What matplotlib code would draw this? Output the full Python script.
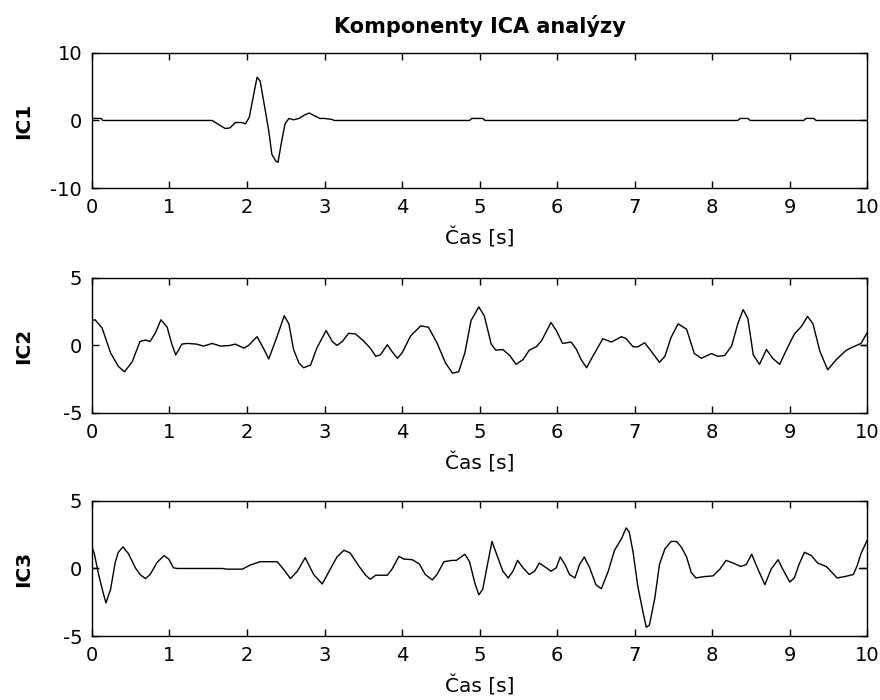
import matplotlib

matplotlib.use("Agg")

import matplotlib.pyplot as plt

# IC1 - single transient around 2.2 s, otherwise flat
ic1_t = [0.0, 0.12, 0.14, 1.55, 1.62, 1.72, 1.78, 1.85, 1.93, 1.98, 2.03, 2.08, 2.13,
         2.17, 2.22, 2.28, 2.32, 2.37, 2.40, 2.44, 2.49, 2.54, 2.60, 2.67, 2.74, 2.80,
         2.87, 2.94, 3.00, 3.10, 3.12, 4.87, 4.90, 5.04, 5.07, 8.33, 8.36, 8.46, 8.49,
         9.18, 9.21, 9.31, 9.34, 10.0]
ic1_v = [0.3, 0.3, 0.0, 0.0, -0.5, -1.2, -1.1, -0.3, -0.3, -0.5, 0.5, 3.5, 6.4,
         5.8, 2.5, -1.5, -5.0, -6.0, -6.2, -3.5, -0.5, 0.3, 0.1, 0.3, 0.8, 1.1,
         0.7, 0.3, 0.3, 0.15, 0.0, 0.0, 0.3, 0.3, 0.0, 0.0, 0.3, 0.3, 0.0,
         0.0, 0.3, 0.3, 0.0, 0.0]

ic2_t = [0.0, 0.04, 0.13, 0.24, 0.34, 0.42, 0.52, 0.62, 0.69, 0.75, 0.82, 0.89, 0.97,
         1.03, 1.08, 1.16, 1.23, 1.35, 1.44, 1.55, 1.66, 1.78, 1.85, 1.96, 2.02, 2.13,
         2.22, 2.28, 2.39, 2.48, 2.54, 2.60, 2.67, 2.73, 2.82, 2.90, 3.02, 3.10, 3.16,
         3.23, 3.31, 3.40, 3.50, 3.59, 3.66, 3.72, 3.81, 3.87, 3.94, 4.00, 4.11, 4.24,
         4.34, 4.45, 4.56, 4.65, 4.73, 4.81, 4.89, 4.99, 5.06, 5.15, 5.21, 5.30, 5.39,
         5.47, 5.56, 5.64, 5.73, 5.80, 5.92, 5.99, 6.07, 6.18, 6.25, 6.31, 6.38, 6.46,
         6.59, 6.70, 6.83, 6.89, 6.98, 7.04, 7.13, 7.21, 7.32, 7.39, 7.47, 7.56, 7.67,
         7.77, 7.86, 7.99, 8.07, 8.16, 8.25, 8.33, 8.40, 8.46, 8.53, 8.61, 8.70, 8.78,
         8.87, 8.96, 9.06, 9.15, 9.23, 9.30, 9.39, 9.49, 9.60, 9.73, 9.84, 9.92, 10.0]
ic2_v = [1.85, 1.9, 1.3, -0.55, -1.55, -1.95, -1.2, 0.3, 0.4, 0.3, 0.95, 1.9, 1.35,
         0.1, -0.7, 0.1, 0.15, 0.1, -0.05, 0.15, -0.05, 0.0, 0.1, -0.2, 0.0, 0.65,
         -0.3, -1.0, 0.7, 2.2, 1.6, -0.3, -1.3, -1.65, -1.45, -0.2, 1.1, 0.3, 0.0,
         0.3, 0.9, 0.85, 0.35, -0.2, -0.8, -0.7, 0.05, -0.45, -0.95, -0.55, 0.7, 1.45,
         1.35, 0.2, -1.3, -2.05, -1.95, -0.55, 1.85, 2.85, 2.2, 0.1, -0.35, -0.3, -0.75,
         -1.4, -1.05, -0.35, -0.1, 0.35, 1.7, 1.1, 0.15, 0.25, -0.3, -1.05, -1.65, -0.8,
         0.5, 0.25, 0.65, 0.5, -0.1, -0.1, 0.2, -0.4, -1.25, -0.8, 0.6, 1.6, 1.2,
         -0.6, -0.95, -0.6, -0.8, -0.75, -0.05, 1.6, 2.65, 2.0, -0.7, -1.4, -0.3, -0.95,
         -1.4, -0.3, 0.85, 1.4, 2.15, 1.6, -0.45, -1.8, -1.05, -0.35, -0.05, 0.15, 0.95]

ic3_t = [0.0, 0.03, 0.09, 0.14, 0.18, 0.24, 0.30, 0.34, 0.40, 0.47, 0.56, 0.62, 0.69,
         0.75, 0.84, 0.93, 0.99, 1.05, 1.10, 1.68, 1.74, 1.94, 2.04, 2.17, 2.39, 2.47,
         2.56, 2.65, 2.75, 2.86, 2.97, 3.05, 3.16, 3.25, 3.33, 3.44, 3.53, 3.59, 3.66,
         3.81, 3.87, 3.96, 4.02, 4.13, 4.22, 4.30, 4.39, 4.45, 4.54, 4.65, 4.70, 4.81,
         4.87, 4.94, 4.99, 5.04, 5.11, 5.16, 5.21, 5.30, 5.37, 5.43, 5.49, 5.56, 5.64,
         5.71, 5.77, 5.86, 5.92, 5.99, 6.04, 6.10, 6.16, 6.23, 6.29, 6.35, 6.42, 6.50,
         6.57, 6.66, 6.74, 6.83, 6.89, 6.93, 6.98, 7.04, 7.11, 7.15, 7.19, 7.26, 7.32,
         7.39, 7.47, 7.54, 7.60, 7.67, 7.73, 7.79, 7.90, 8.01, 8.10, 8.18, 8.27, 8.37,
         8.44, 8.51, 8.59, 8.68, 8.76, 8.85, 8.91, 9.00, 9.06, 9.12, 9.19, 9.28, 9.36,
         9.47, 9.53, 9.61, 9.71, 9.82, 9.87, 9.92, 10.0]
ic3_v = [1.6, 1.1, -0.55, -1.7, -2.55, -1.55, 0.45, 1.2, 1.6, 1.1, 0.05, -0.45, -0.75,
         -0.45, 0.45, 0.95, 0.7, 0.05, 0.0, 0.0, -0.05, -0.05, 0.25, 0.5, 0.5, -0.05,
         -0.75, -0.2, 0.8, -0.45, -1.15, -0.3, 0.85, 1.35, 1.15, 0.2, -0.5, -0.8, -0.5,
         -0.5, -0.05, 0.9, 0.7, 0.65, 0.35, -0.45, -0.85, -0.45, 0.5, 0.6, 0.6, 1.05,
         0.5, -1.1, -1.95, -1.55, 0.55, 2.0, 1.2, -0.2, -0.7, -0.2, 0.6, 0.05, -0.45,
         -0.2, 0.4, 0.05, -0.2, 0.05, 0.85, 0.3, -0.45, -0.7, 0.3, 0.85, 0.05, -1.2,
         -1.5, -0.2, 1.35, 2.2, 3.0, 2.7, 1.2, -1.3, -3.3, -4.35, -4.2, -2.2, 0.3,
         1.45, 2.0, 2.0, 1.6, 0.85, -0.3, -0.7, -0.6, -0.55, -0.05, 0.6, 0.4, 0.15,
         0.3, 1.05, -0.05, -1.2, -0.05, 0.65, -0.05, -1.0, -0.7, 0.3, 1.2, 0.95, 0.4,
         0.15, -0.2, -0.7, -0.6, -0.45, 0.2, 1.1, 2.1]

# short zero-level stubs visible at the series ends
ic2_stub_t = [9.92, 10.0]
ic2_stub_v = [0.0, 0.0]
ic3_stub_t = [0.0, 0.05, 9.9, 10.0]
ic3_stub_v = [0.0, 0.0, 0.0, 0.0]

panels = [
    ("IC1", ic1_t, ic1_v, None, None, (-10, 10), [-10, 0, 10]),
    ("IC2", ic2_t, ic2_v, ic2_stub_t, ic2_stub_v, (-5, 5), [-5, 0, 5]),
    ("IC3", ic3_t, ic3_v, ic3_stub_t, ic3_stub_v, (-5, 5), [-5, 0, 5]),
]

plt.rcParams["font.family"] = ["DejaVu Sans"]
plt.rcParams["axes.unicode_minus"] = False

fig = plt.figure(figsize=(8.8, 7.0), dpi=100)
fig.patch.set_facecolor("white")

bottoms = [0.7314, 0.41, 0.0914]
for (name, t, v, st, sv, ylim, yticks), b in zip(panels, bottoms):
    ax = fig.add_axes([0.1045, b, 0.881, 0.193])
    ax.plot(t, v, color="black", lw=1.0)
    if st is not None:
        # stubs drawn as pairs of points
        for i in range(0, len(st), 2):
            ax.plot(st[i:i + 2], sv[i:i + 2], color="black", lw=1.0)
    ax.set_xlim(0, 10)
    ax.set_ylim(*ylim)
    ax.set_xticks(range(0, 11))
    ax.set_yticks(yticks)
    ax.tick_params(direction="in", top=True, right=True, length=5, width=1,
                   labelsize=14, pad=7)
    for sp in ax.spines.values():
        sp.set_linewidth(1.0)
    ax.set_xlabel("Čas [s]", fontsize=14.5, labelpad=8)
    ax.set_ylabel(name, fontsize=14.5, fontweight="bold")
    ax.yaxis.set_label_coords(-0.076, 0.5)

fig.axes[0].set_title("Komponenty ICA analýzy", fontsize=15, fontweight="bold", pad=14)

fig.savefig("out.png", dpi=100, facecolor="white")
